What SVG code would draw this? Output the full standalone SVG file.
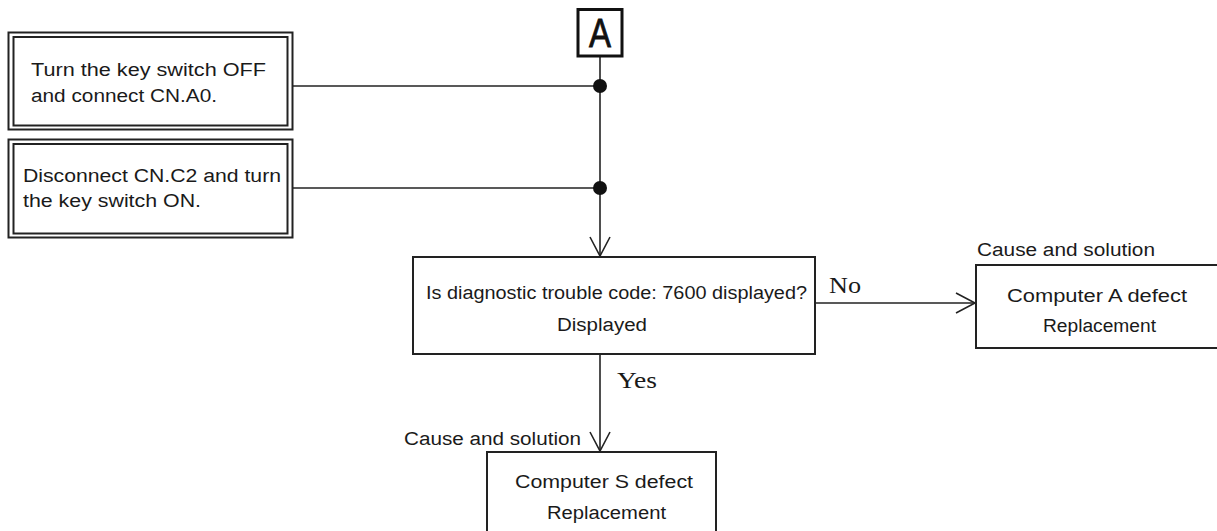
<svg xmlns="http://www.w3.org/2000/svg" width="1217" height="531" viewBox="0 0 1217 531">
<defs>
<marker id="arr" markerWidth="24" markerHeight="24" refX="20" refY="11" orient="auto" markerUnits="userSpaceOnUse">
<path d="M1,1 L20,11 L1,21" fill="none" stroke="#222" stroke-width="1.6"/>
</marker>
<style>
.t{font-family:"Liberation Sans",Arial,sans-serif;font-size:18px;fill:#1a1a1a}
.s{font-family:"Liberation Serif","Times New Roman",serif;font-size:24px;fill:#1a1a1a}
.box{fill:#fff;stroke:#222;stroke-width:2}
.dbl{fill:none;stroke:#222;stroke-width:2}
.ln{fill:none;stroke:#222;stroke-width:1.6}
</style>
</defs>
<rect width="1217" height="531" fill="#fff"/>
<g id="connectors">
<line class="ln" x1="293" y1="86" x2="600" y2="86"/>
<line class="ln" x1="293" y1="188" x2="600" y2="188"/>
<line class="ln" x1="600" y1="56" x2="600" y2="256" marker-end="url(#arr)"/>
<circle cx="600" cy="86" r="7" fill="#111"/>
<circle cx="600" cy="188" r="7" fill="#111"/>
<line class="ln" x1="815" y1="303" x2="975" y2="303" marker-end="url(#arr)"/>
<line class="ln" x1="600" y1="354" x2="600" y2="451" marker-end="url(#arr)"/>
<text class="s" x="829" y="293" textLength="32" lengthAdjust="spacingAndGlyphs">No</text>
<text class="s" x="617" y="388" textLength="40" lengthAdjust="spacingAndGlyphs">Yes</text>
</g>
<g id="nodeA">
<rect x="578" y="9.5" width="44" height="46.5" fill="#fff" stroke="#111" stroke-width="3"/>
<text x="589" y="47" font-family="Liberation Sans,Arial,sans-serif" font-size="40" fill="#111" stroke="#111" stroke-width="0.8" textLength="22" lengthAdjust="spacingAndGlyphs">A</text>
</g>
<g id="step1">
<rect class="dbl" x="8.5" y="32.5" width="284" height="97"/>
<rect class="dbl" x="13.5" y="37" width="274" height="88.5"/>
<text class="t" x="31" y="76" textLength="235" lengthAdjust="spacingAndGlyphs">Turn the key switch OFF</text>
<text class="t" x="31" y="102" textLength="186" lengthAdjust="spacingAndGlyphs">and connect CN.A0.</text>
</g>
<g id="step2">
<rect class="dbl" x="8.5" y="139.5" width="284" height="98"/>
<rect class="dbl" x="13.5" y="144" width="274" height="89.5"/>
<text class="t" x="23" y="182" textLength="258" lengthAdjust="spacingAndGlyphs">Disconnect CN.C2 and turn</text>
<text class="t" x="23" y="207" textLength="178" lengthAdjust="spacingAndGlyphs">the key switch ON.</text>
</g>
<g id="question">
<rect class="box" x="413" y="257" width="402" height="97"/>
<text class="t" x="426" y="299" textLength="381" lengthAdjust="spacingAndGlyphs">Is diagnostic trouble code: 7600 displayed?</text>
<text class="t" x="557" y="331" textLength="90" lengthAdjust="spacingAndGlyphs">Displayed</text>
</g>
<g id="resultA">
<text class="t" x="977" y="256" textLength="178" lengthAdjust="spacingAndGlyphs">Cause and solution</text>
<rect class="box" x="976" y="265" width="250" height="83"/>
<text class="t" x="1007" y="302" textLength="180" lengthAdjust="spacingAndGlyphs">Computer A defect</text>
<text class="t" x="1043" y="332" textLength="113" lengthAdjust="spacingAndGlyphs">Replacement</text>
</g>
<g id="resultS">
<text class="t" x="404" y="445" textLength="177" lengthAdjust="spacingAndGlyphs">Cause and solution</text>
<rect class="box" x="487" y="452" width="229" height="90"/>
<text class="t" x="515" y="488" textLength="178" lengthAdjust="spacingAndGlyphs">Computer S defect</text>
<text class="t" x="547" y="519" textLength="119" lengthAdjust="spacingAndGlyphs">Replacement</text>
</g>
</svg>
